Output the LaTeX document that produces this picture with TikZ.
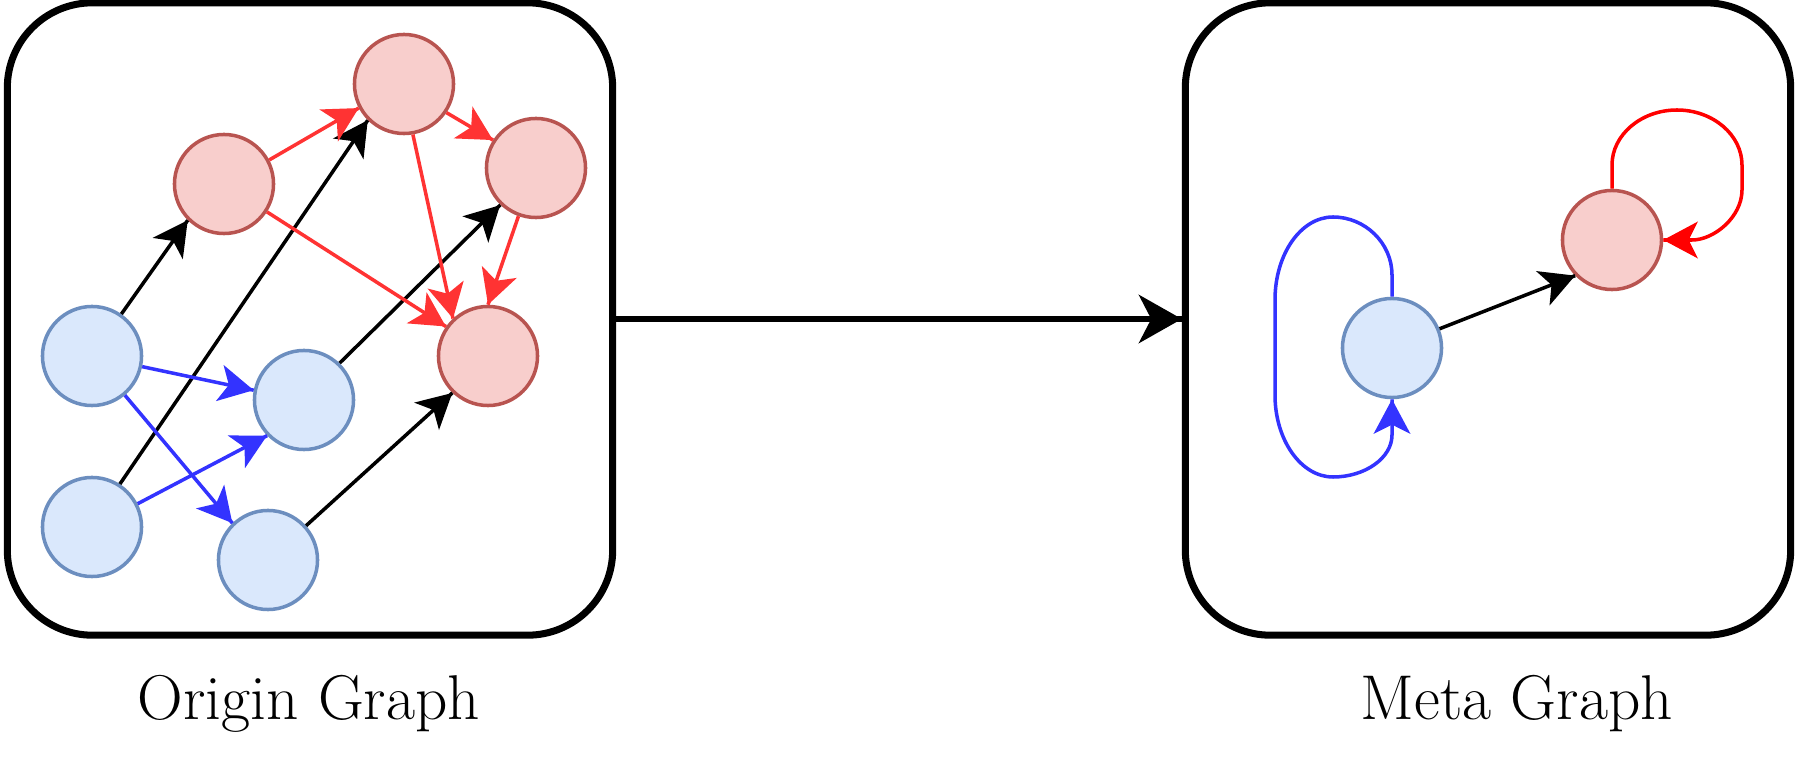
\documentclass[tikz,border=0pt]{standalone}
\usepackage{tikz}
\usetikzlibrary{arrows.meta,decorations.markings}

\definecolor{bluefill}{HTML}{DAE8FC}
\definecolor{bluedraw}{HTML}{6C8EBF}
\definecolor{redfill}{HTML}{F8CECC}
\definecolor{reddraw}{HTML}{B85450}
\definecolor{edgeblue}{HTML}{3333FF}
\definecolor{edgered}{HTML}{FF3333}
\definecolor{loopred}{HTML}{FF0000}

\begin{document}
\begin{tikzpicture}[x=0.01cm, y=-0.01cm,
  bluenode/.style={circle, draw=bluedraw, fill=bluefill, line width=1pt, minimum size=0.99cm, inner sep=0pt},
  rednode/.style={circle, draw=reddraw, fill=redfill, line width=1pt, minimum size=0.99cm, inner sep=0pt},
  panel/.style={draw, line width=2pt, rounded corners=0.85cm, minimum width=6.05cm, minimum height=6.32cm},
  caption/.style={anchor=base, font=\fontsize{18}{21}\selectfont},
  arrowend/.style={decoration={markings,mark=at position 1 with {\arrow[#1]{Stealth[length=9.8pt,width=10.4pt,inset=2.6pt]}}},postaction={decorate}},
  blackedge/.style={line width=1pt, arrowend=black},
  blueedge/.style={draw=edgeblue, line width=1pt, arrowend=edgeblue},
  rededge/.style={draw=edgered, line width=1pt, arrowend=edgered}]
\useasboundingbox (0,0) rectangle (1796,764);

% panels
\node[panel] (origin) at (310,319) {};
\node[panel] (meta) at (1488,319) {};
\draw[line width=1.7pt, decoration={markings,mark=at position 1 with {\arrow{Stealth[length=12.2pt,width=13.7pt,inset=3.5pt]}}},postaction={decorate}] (origin.east) -- (meta.west);

% origin graph
\node[rednode] (r1) at (224,184) {};
\node[rednode] (r2) at (404,84) {};
\node[rednode] (r3) at (536,168) {};
\node[rednode] (r4) at (488,356) {};
\node[bluenode] (b1) at (92,356) {};
\node[bluenode] (b2) at (304,400) {};
\node[bluenode] (b3) at (92,527) {};
\node[bluenode] (b4) at (268,560) {};

\draw[blackedge] (b1.55) -- (r1.225);
\draw[blackedge] (b3.57) -- (r2.225);
\draw[blackedge] (b2.46) -- (r3.226);
\draw[blackedge] (b4.42) -- (r4.226);
\draw[blueedge] (b1.-12) -- (b2.169);
\draw[blueedge] (b1.-50) -- (b4.134);
\draw[blueedge] (b3.27) -- (b2.224);
\draw[rededge] (r1.28) -- (r2.208);
\draw[rededge] (r2.-34) -- (r3.147);
\draw[rededge] (r1.-33) -- (r4.145);
\draw[rededge] (r2.-80) -- (r4.133);
\draw[rededge] (r3.250) -- (r4.90);

% meta graph
\node[bluenode] (m1) at (1392,348) {};
\node[rednode] (m2) at (1612,240) {};
\draw[blackedge] (m1.22) -- (m2.224);
\draw[blueedge] (m1.north) -- (1392,275)
  .. controls (1392,243) and (1365,217) .. (1333,217)
  .. controls (1301,217) and (1275,254) .. (1275,300) -- (1275,395)
  .. controls (1275,440) and (1301,477) .. (1333,477)
  .. controls (1365,477) and (1392,458) .. (1392,435) -- (m1.south);
\draw[draw=loopred, line width=1pt, arrowend=loopred] (m2.north) -- (1612,165)
  .. controls (1612,135) and (1641,110) .. (1677,110)
  .. controls (1713,110) and (1742,135) .. (1742,165) -- (1742,190)
  .. controls (1742,217) and (1714,240) .. (1692,240) -- (m2.east);

\node[caption] (originlabel) at (309,719) {Origin Graph};
\node[caption] (metalabel) at (1517,719) {Meta Graph};
\end{tikzpicture}
\end{document}
